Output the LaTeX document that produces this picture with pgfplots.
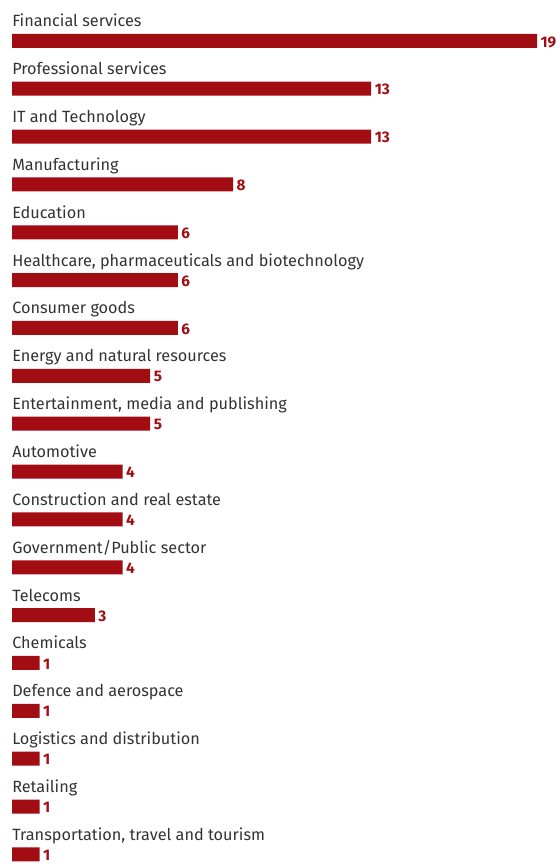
\documentclass[border=0pt]{standalone}
\usepackage{pgfplots}
\pgfplotsset{compat=1.18}
\usepackage{fontspec}
\setmainfont{Fira Sans}
\definecolor{barred}{RGB}{161,13,18}
\definecolor{txt}{RGB}{51,51,51}
\begin{document}
\begin{tikzpicture}
\begin{axis}[
  scale only axis,
  width=418.5pt, height=646.75pt,
  xmin=-0.43429, xmax=19.76,
  ymin=-0.85417, ymax=17.16667,
  y dir=reverse,
  hide axis,
  clip=false,
  xbar, bar width=10.5pt, bar shift=0pt,
  /pgf/number format/assume math mode=true,
  nodes near coords,
  nodes near coords style={font=\fontsize{11.5}{11.5}\selectfont\bfseries, text=barred, inner sep=0pt, text depth=0pt, anchor=base west, xshift=2.5pt, yshift=-4.6pt},
]
\addplot[fill=barred, draw=none] coordinates {
(19,0) (13,1) (13,2) (8,3) (6,4) (6,5) (6,6) (5,7) (5,8) (4,9) (4,10) (4,11) (3,12) (1,13) (1,14) (1,15) (1,16) (1,17)};
\begin{scope}[every node/.style={anchor=base west, inner sep=0pt, text=txt, font=\fontsize{12.2}{12.2}\selectfont, yshift=10.5pt}]
\node at (axis cs:0,0) {Financial services};
\node at (axis cs:0,1) {Professional services};
\node at (axis cs:0,2) {IT and Technology};
\node at (axis cs:0,3) {Manufacturing};
\node at (axis cs:0,4) {Education};
\node at (axis cs:0,5) {Healthcare, pharmaceuticals and biotechnology};
\node at (axis cs:0,6) {Consumer goods};
\node at (axis cs:0,7) {Energy and natural resources};
\node at (axis cs:0,8) {Entertainment, media and publishing};
\node at (axis cs:0,9) {Automotive};
\node at (axis cs:0,10) {Construction and real estate};
\node at (axis cs:0,11) {Government/Public sector};
\node at (axis cs:0,12) {Telecoms};
\node at (axis cs:0,13) {Chemicals};
\node at (axis cs:0,14) {Defence and aerospace};
\node at (axis cs:0,15) {Logistics and distribution};
\node at (axis cs:0,16) {Retailing};
\node at (axis cs:0,17) {Transportation, travel and tourism};
\end{scope}
\end{axis}
\pgfresetboundingbox
\path[use as bounding box] (current axis.north east) rectangle ([yshift=-2pt]current axis.south west);
\end{tikzpicture}
\end{document}
